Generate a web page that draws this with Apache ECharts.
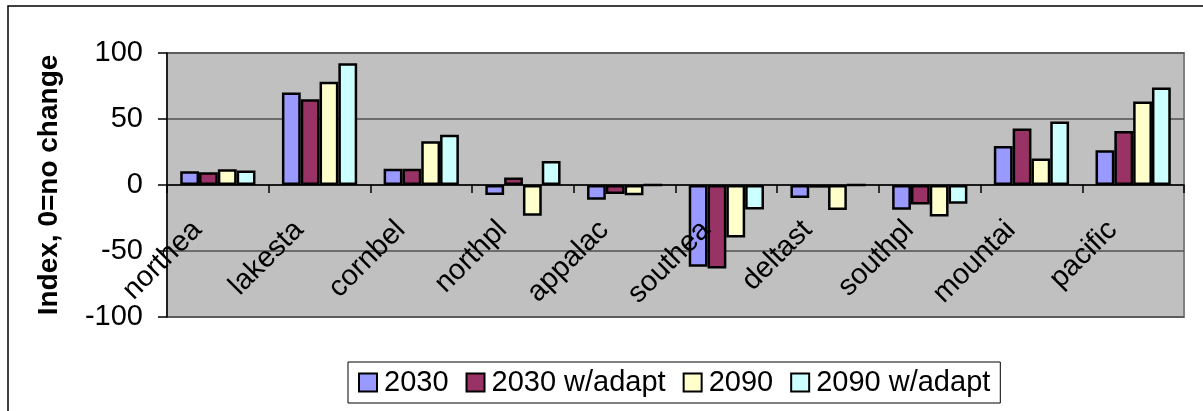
<!DOCTYPE html>
<html>
<head>
<meta charset="utf-8">
<script src="https://cdn.jsdelivr.net/npm/echarts@6/dist/echarts.min.js"></script>
<style>
  html, body { margin: 0; padding: 0; background: #fff; }
  #chart { width: 1203px; height: 411px; }
</style>
</head>
<body>
<div id="chart"></div>
<script>
// Regions along the category axis
const regions = ['northea', 'lakesta', 'cornbel', 'northpl', 'appalac', 'southea', 'deltast', 'southpl', 'mountai', 'pacific'];

// Index values per region (0 = no change)
const v2030       = [10.4, 70.1, 12.4, -7.6, -11.1, -62.0, -9.9, -18.7, 29.6, 26.3];
const v2030Adapt  = [9.6, 65.0, 12.4, 5.6, -6.8, -63.3, -2.0, -14.7, 42.8, 41.0];
const v2090       = [11.9, 78.2, 33.2, -23.3, -7.8, -39.7, -19.0, -23.8, 20.0, 63.3];
const v2090Adapt  = [10.9, 92.2, 38.0, 18.2, 0, -18.5, 0, -14.2, 48.1, 73.9];

const seriesNames = ['2030', '2030 w/adapt', '2090', '2090 w/adapt'];
const seriesData = [v2030, v2030Adapt, v2090, v2090Adapt];
const seriesColors = ['#9999FF', '#993366', '#FFFFCC', '#CCFFFF'];

// Value axis ticks
const yMin = -100, yMax = 100, yStep = 50;

const FONT = '"Liberation Sans", Arial, sans-serif';

// Plot box
const W = 1203, H = 411;
const gridBox = { left: 167, right: 19, top: 53, bottom: 94 };
const plotHeight = H - gridBox.top - gridBox.bottom;
// Lift the category axis from the bottom edge up to the value 0 line
const zeroLift = plotHeight * (0 - yMin) / (yMax - yMin);

const chart = echarts.init(document.getElementById('chart'), null, { renderer: 'canvas' });

chart.setOption({
  animation: false,
  backgroundColor: '#ffffff',
  textStyle: { fontFamily: FONT, color: '#000' },
  graphic: [
    {
      type: 'rect',
      shape: { x: 8, y: 6, width: 1300, height: 500 },
      style: { fill: 'none', stroke: '#000', lineWidth: 1.5 },
      silent: true,
      z: -1
    }
  ],
  grid: {
    left: gridBox.left, right: gridBox.right, top: gridBox.top, bottom: gridBox.bottom,
    containLabel: false,
    outerBoundsMode: 'none',
    show: true,
    backgroundColor: '#C0C0C0',
    borderColor: '#808080',
    borderWidth: 2
  },
  legend: {
    left: 348, top: 362,
    data: seriesNames,
    icon: 'rect',
    itemWidth: 18, itemHeight: 18,
    itemGap: 17,
    padding: [6, 10, 6, 10],
    borderColor: '#000', borderWidth: 1,
    textStyle: { fontFamily: FONT, fontSize: 29, color: '#000', padding: [0, 0, 0, 2] }
  },
  xAxis: {
    type: 'category',
    data: regions,
    boundaryGap: true,
    position: 'bottom',
    offset: -zeroLift,
    z: 10,
    axisLine: { onZero: false, lineStyle: { color: '#000', width: 1.5 } },
    axisTick: { show: true, alignWithLabel: false, length: 8, lineStyle: { color: '#000', width: 1.5 } },
    axisLabel: {
      rotate: 45, interval: 0, margin: 20,
      padding: [0, 29, 0, 0],
      fontFamily: FONT, fontSize: 29, color: '#000'
    },
    splitLine: { show: false }
  },
  yAxis: {
    type: 'value',
    min: yMin, max: yMax, interval: yStep,
    name: 'Index, 0=no change',
    nameLocation: 'middle',
    nameRotate: 90,
    nameGap: 104,
    nameTextStyle: { fontFamily: FONT, fontSize: 28, fontWeight: 'bold', color: '#000' },
    axisLine: { show: true, onZero: false, lineStyle: { color: '#000', width: 1.5 } },
    axisTick: { show: true, length: 9, lineStyle: { color: '#000', width: 1.5 } },
    axisLabel: { margin: 24, fontFamily: FONT, fontSize: 29, color: '#000' },
    splitLine: { show: true, lineStyle: { color: '#505050', width: 1.5 } }
  },
  series: seriesNames.map((name, i) => ({
    name: name,
    type: 'bar',
    data: seriesData[i],
    barGap: '0%',
    barCategoryGap: '26%',
    itemStyle: { color: seriesColors[i], borderColor: '#000', borderWidth: 2.5 }
  }))
});
</script>
</body>
</html>
